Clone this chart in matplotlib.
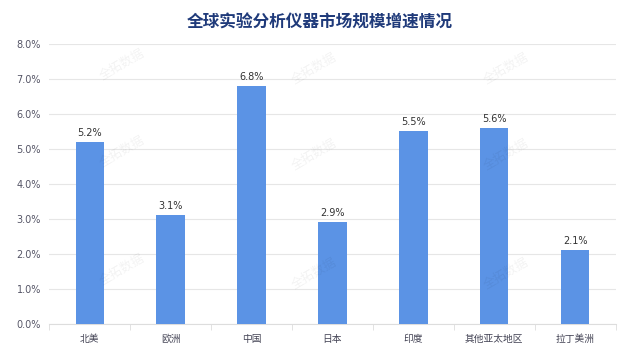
import matplotlib.pyplot as plt
from matplotlib.ticker import FuncFormatter

plt.rcParams['font.family'] = ['Noto Sans CJK SC', 'DejaVu Sans']

# data
regions = ['北美', '欧洲', '中国', '日本', '印度', '其他亚太地区', '拉丁美洲']
growth = [5.2, 3.1, 6.8, 2.9, 5.5, 5.6, 2.1]

fig = plt.figure(figsize=(6.4, 3.6), dpi=100)
ax = fig.add_axes([0.077, 0.1, 0.885, 0.778])

x = range(len(regions))
bars = ax.bar(x, growth, width=0.35, color='#5B93E5', zorder=3)
for b, v in zip(bars, growth):
    ax.text(b.get_x() + b.get_width() / 2, v + 0.12, f'{v:.1f}%',
            ha='center', va='bottom', fontsize=7, color='#333333',
            family=['DejaVu Sans'])

ax.set_xlim(-0.5, len(regions) - 0.5)
ax.set_ylim(0, 8)
ax.set_yticks(range(0, 9))
ax.yaxis.set_major_formatter(FuncFormatter(lambda v, p: f'{v:.1f}%'))
ax.set_xticks(list(x))
ax.set_xticklabels(regions)
ax.set_xticks([i - 0.5 for i in range(len(regions) + 1)], minor=True)

ax.grid(axis='y', color='#E6E6E6', linewidth=0.8, zorder=0)
for s in ['top', 'right', 'left']:
    ax.spines[s].set_visible(False)
ax.spines['bottom'].set_color('#DDDDDD')
ax.tick_params(axis='y', length=0, labelsize=7, labelcolor='#555566', pad=6)
ax.tick_params(axis='x', which='major', length=0, labelsize=7, labelcolor='#444455', pad=7)
ax.tick_params(axis='x', which='minor', length=4, color='#DDDDDD')
for lbl in ax.get_yticklabels():
    lbl.set_family(['DejaVu Sans'])

fig.text(0.5, 0.937, '全球实验分析仪器市场规模增速情况', ha='center', va='center',
         fontsize=12, fontweight='bold', color='#1F3A7A')

# faint watermark
marks = [(0.19, 0.82), (0.49, 0.81), (0.79, 0.81), (0.19, 0.58), (0.49, 0.57),
         (0.79, 0.57), (0.19, 0.25), (0.49, 0.24), (0.79, 0.24)]
for mx, my in marks:
    fig.text(mx, my, '全拓数据', fontsize=9, color='#000000', alpha=0.05,
             rotation=30, ha='center', va='center')

fig.savefig('out.png', dpi=100)
